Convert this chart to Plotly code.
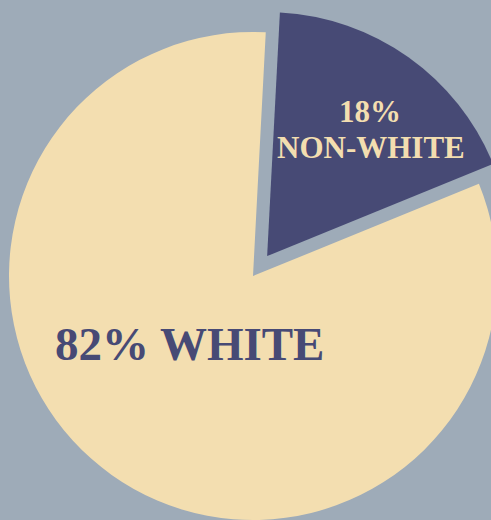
import math
import plotly.graph_objects as go

# ---- data ----
labels = ["NON-WHITE", "WHITE"]
values = [18, 82]

# ---- style ----
BG = "#9eabb8"
CREAM = "#f3deb0"
NAVY = "#474a75"
CLEAR = "rgba(0,0,0,0)"
FONT = "Liberation Serif"

W, H = 520, 532            # figure larger than the window; overflow hidden
ROT = 3                    # degrees clockwise from 12 o'clock
PULL = 0.1
R = 244                    # pie radius in px
CX, CY = 253, 276          # pie centre in px (from top-left)

total = sum(values)
mid = math.radians(ROT + 360 * values[0] / total / 2)
DX, DY = CX + PULL * R * math.sin(mid), CY - PULL * R * math.cos(mid)


def dom(cx, cy):
    return dict(x=[(cx - R) / W, (cx + R) / W],
                y=[1 - (cy + R) / H, 1 - (cy - R) / H])


fig = go.Figure()
fig.add_trace(go.Pie(labels=labels, values=values, sort=False, rotation=ROT,
                     direction="clockwise", domain=dom(DX, DY),
                     marker=dict(colors=[NAVY, CLEAR], line=dict(width=0)),
                     textinfo="none", hoverinfo="skip", showlegend=False))
fig.add_trace(go.Pie(labels=labels, values=values, sort=False, rotation=ROT,
                     direction="clockwise", domain=dom(CX, CY),
                     marker=dict(colors=[CLEAR, CREAM], line=dict(width=0)),
                     textinfo="none", hoverinfo="skip", showlegend=False))

ann = [
    dict(text=f"<b>{values[0]}%</b>", x=370 / W, y=1 - 111 / H,
         font=dict(family=FONT, size=31, color=CREAM)),
    dict(text=f"<b>{labels[0]}</b>", x=371 / W, y=1 - 147 / H,
         font=dict(family=FONT, size=31, color=CREAM)),
    dict(text=f"<b>{values[1]}% {labels[1]}</b>", x=189 / W, y=1 - 344 / H,
         font=dict(family=FONT, size=47, color=NAVY)),
]
for a in ann:
    a.update(xref="paper", yref="paper", showarrow=False,
             xanchor="center", yanchor="middle")

fig.update_layout(width=W, height=H, margin=dict(l=0, r=0, t=0, b=0),
                  paper_bgcolor=BG, plot_bgcolor=BG, annotations=ann)

fig.write_html("out.html",
               post_script="document.documentElement.style.overflow='hidden';"
                           "document.body.style.overflow='hidden';"
                           "document.body.style.margin='0';")
